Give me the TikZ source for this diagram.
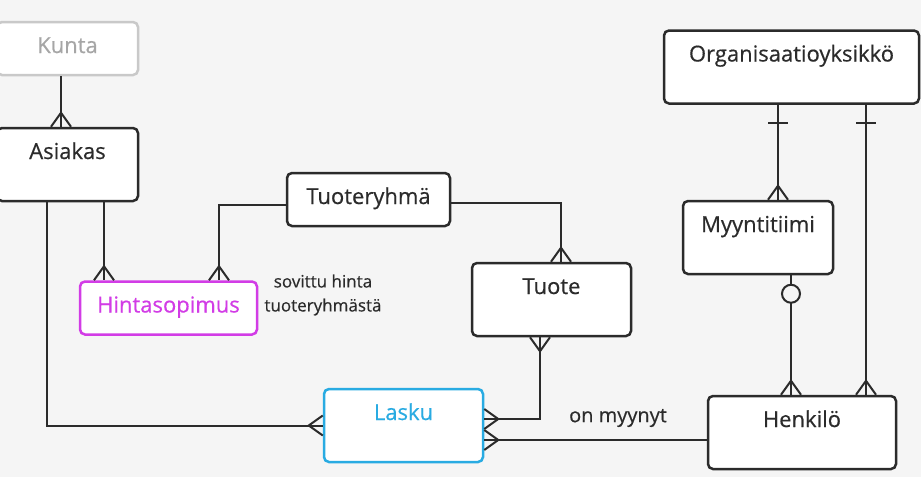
\documentclass[tikz,border=0pt]{standalone}
\usepackage{fontspec}
\setmainfont{Open Sans}
\newfontfamily\medfont[FakeBold=0.5]{Open Sans}
\usepackage{xcolor}
\definecolor{bgray}{HTML}{F5F5F5}
\definecolor{ink}{HTML}{2B2B2B}
\definecolor{faint}{HTML}{C9C9C9}
\definecolor{fainttext}{HTML}{A6A6A6}
\definecolor{violet}{HTML}{D23CE6}
\definecolor{sky}{HTML}{29ABE2}
\usetikzlibrary{calc}

\tikzset{
  crowN/.pic={\draw (-10,0) -- (0,-14) -- (10,0);},
  crowS/.pic={\draw (-10,0) -- (0,14) -- (10,0);},
  crowE/.pic={\draw (0,-10) -- (14,0) -- (0,10);},
  crowW/.pic={\draw (0,-10) -- (-14,0) -- (0,10);},
  onebar/.pic={\draw (-10,18) -- (10,18);},
  zeroring/.pic={\draw[fill=bgray] (0,18.5) circle (9);}
}

\begin{document}
\begin{tikzpicture}[x=1pt,y=-1pt,
    entity/.style={draw=ink, fill=white, line width=2.5pt, rounded corners=5pt,
      inner xsep=0pt, inner ysep=0pt, text height=31pt, text=ink,
      font=\medfont\fontsize{22}{26}\selectfont},
    tall/.style={text depth=42pt},
    short/.style={text depth=22pt},
    conn/.style={draw=ink, line width=2pt},
    note/.style={text=ink, align=center, font=\medfont\fontsize{17}{24}\selectfont}]
  \useasboundingbox (0,0) rectangle (921,477);
  \fill[bgray] (0,0) rectangle (921,477);

  % entities
  \node[entity, short, minimum width=141pt, draw=faint, text=fainttext] (kunta) at (67.5,48.5) {Kunta};
  \node[entity, tall, minimum width=141pt] (asiakas) at (67.5,164.5) {Asiakas};
  \node[entity, short, minimum width=163pt] (tuoteryhma) at (368.5,199.5) {Tuoteryhmä};
  \node[entity, short, minimum width=177pt, draw=violet, text=violet] (hinta) at (168.5,308) {Hintasopimus};
  \node[entity, tall, minimum width=159pt] (tuote) at (551.5,299.5) {Tuote};
  \node[entity, tall, minimum width=159pt, draw=sky, text=sky] (lasku) at (403.5,425.5) {Lasku};
  \node[entity, tall, minimum width=255pt] (org) at (791.5,67) {Organisaatioyksikkö};
  \node[entity, tall, minimum width=150pt] (tiimi) at (758,237.5) {Myyntitiimi};
  \node[entity, tall, minimum width=188pt] (henkilo) at (802,432.5) {Henkilö};

  % labels
  \node[note] (sovittu) at (323,295) {sovittu hinta\\tuoteryhmästä};
  \node[note, font=\medfont\fontsize{20}{24}\selectfont] (myynyt) at (618,418) {on myynyt};

  % relations
  \begin{scope}[conn]
    \draw ([xshift=-6.5pt]kunta.south) -- ([xshift=-6.5pt]asiakas.north);
    \pic at ([xshift=-6.5pt]asiakas.north) {crowN};

    \draw ([xshift=36.5pt]asiakas.south) -- ([xshift=-64.5pt]hinta.north);
    \pic at ([xshift=-64.5pt]hinta.north) {crowN};

    \draw ([yshift=-5.5pt]tuoteryhma.west) -| ([xshift=50.5pt]hinta.north);
    \pic at ([xshift=50.5pt]hinta.north) {crowN};

    \draw ([yshift=-3pt]tuoteryhma.east) -| ([xshift=9.5pt]tuote.north);
    \pic at ([xshift=9.5pt]tuote.north) {crowN};

    \draw ([xshift=-20.5pt]asiakas.south) |- (lasku.west);
    \pic at (lasku.west) {crowW};

    \draw ([xshift=-11.5pt]tuote.south) |- ([yshift=6.5pt]lasku.east);
    \pic at ([xshift=-11.5pt]tuote.south) {crowS};
    \pic at ([yshift=6.5pt]lasku.east) {crowE};

    \draw ([yshift=-14.5pt]lasku.east) -- ([yshift=-14.5pt]lasku.east -| henkilo.west);
    \pic at ([yshift=-14.5pt]lasku.east) {crowE};

    \draw ([xshift=-13.5pt]org.south) -- ([xshift=20pt]tiimi.north);
    \pic at ([xshift=-13.5pt]org.south) {onebar};
    \pic at ([xshift=20pt]tiimi.north) {crowN};

    \draw ([xshift=74.5pt]org.south) -- ([xshift=64pt]henkilo.north);
    \pic at ([xshift=74.5pt]org.south) {onebar};
    \pic at ([xshift=64pt]henkilo.north) {crowN};

    \draw ([xshift=33pt]tiimi.south) -- ([xshift=-11pt]henkilo.north);
    \pic at ([xshift=33pt]tiimi.south) {zeroring};
    \pic at ([xshift=-11pt]henkilo.north) {crowN};
  \end{scope}
\end{tikzpicture}
\end{document}
